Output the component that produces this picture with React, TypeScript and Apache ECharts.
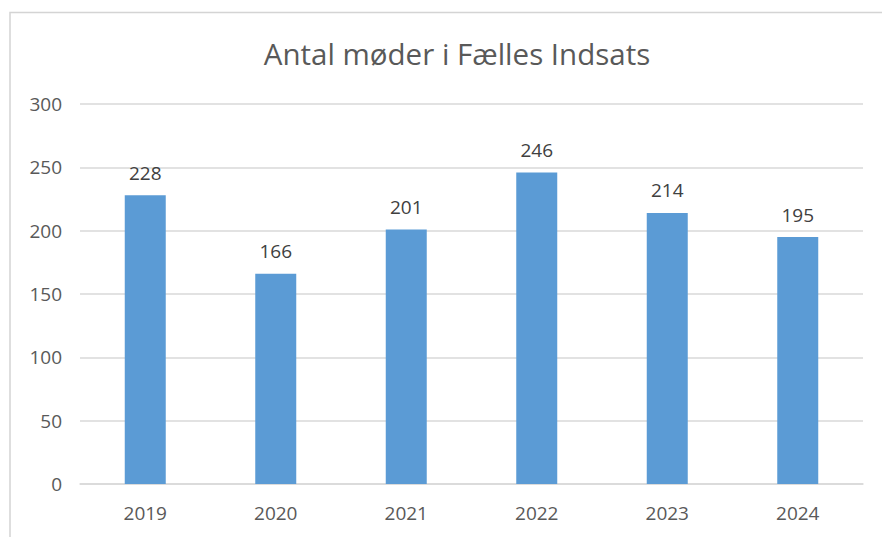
import React, { useEffect, useRef } from "react";
import * as echarts from "echarts";

const categories = ["2019", "2020", "2021", "2022", "2023", "2024"];
const values = [228, 166, 201, 246, 214, 195];
const yTicks = [0, 50, 100, 150, 200, 250, 300];
const title = "Antal møder i Fælles Indsats";

const FONT = "Open Sans";

export default function App() {
  const ref = useRef<HTMLDivElement>(null);
  useEffect(() => {
    document.body.style.margin = "0";
    const chart = echarts.init(ref.current!, null, { renderer: "svg" });
    chart.setOption({
      animation: false,
      backgroundColor: "#ffffff",
      title: {
        text: title,
        left: 452,
        top: 33,
        textAlign: "center",
        textStyle: { fontFamily: FONT, fontSize: 29.5, fontWeight: "normal", color: "#595959" },
      },
      graphic: [
        {
          type: "rect",
          shape: { x: 10, y: 12.5, width: 920, height: 600 },
          style: { fill: "none", stroke: "#d4d4d4", lineWidth: 1.5 },
          silent: true,
        },
      ],
      grid: { left: 80, right: 19, top: 104, bottom: 53 },
      xAxis: {
        type: "category",
        data: categories,
        axisLine: { show: true, lineStyle: { color: "#d9d9d9", width: 1.5 } },
        axisTick: { show: false },
        axisLabel: { color: "#595959", fontFamily: FONT, fontSize: 19, margin: 19 },
      },
      yAxis: {
        type: "value",
        min: yTicks[0],
        max: yTicks[yTicks.length - 1],
        interval: 50,
        axisLine: { show: false },
        axisTick: { show: false },
        splitLine: { lineStyle: { color: "#d9d9d9", width: 1.5 } },
        axisLabel: { color: "#595959", fontFamily: FONT, fontSize: 19, margin: 18 },
      },
      series: [
        {
          type: "bar",
          data: values,
          barWidth: 41,
          itemStyle: { color: "#5b9bd5" },
          label: {
            show: true,
            position: "top",
            distance: 13,
            color: "#404040",
            fontFamily: FONT,
            fontSize: 19,
          },
        },
      ],
    });
    return () => chart.dispose();
  }, []);
  return <div ref={ref} style={{ width: 882, height: 537 }} />;
}
